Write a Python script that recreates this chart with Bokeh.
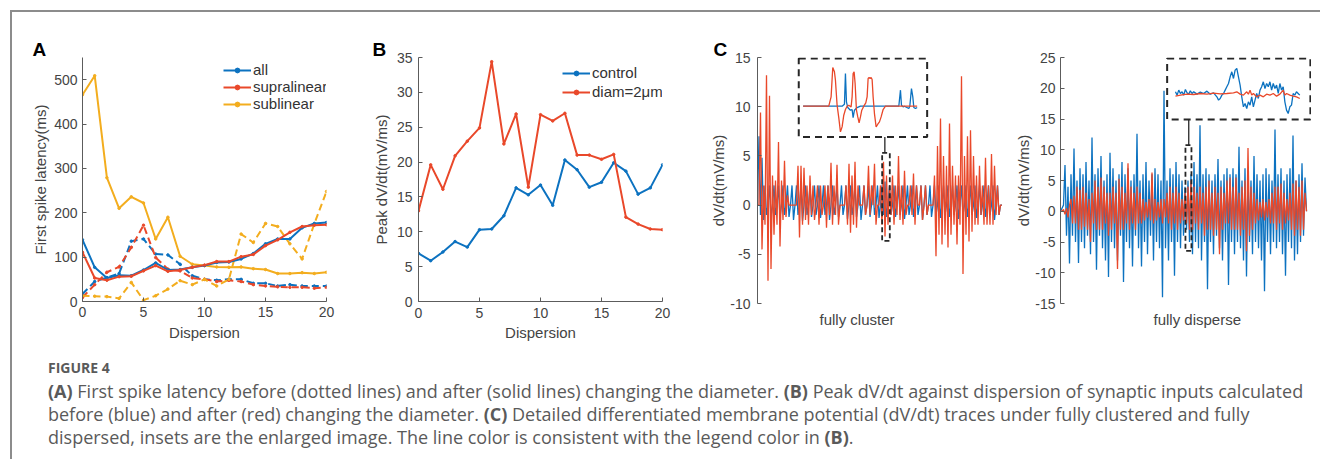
import numpy as np
from bokeh.plotting import figure
from bokeh.models import Range1d, FixedTicker, Legend, LegendItem, Div, BoxAnnotation, Title
from bokeh.layouts import row, column
from bokeh.embed import file_html
from bokeh.resources import INLINE

# ---------------- data ----------------
dispersion = list(range(21))
xticks_disp = [0, 5, 10, 15, 20]

# Panel A: first spike latency (ms); "after" = solid, "before" = dashed
lat_all_after = [139, 77, 53, 59, 58, 71, 87, 71, 72, 77, 81, 88, 89, 96, 108, 130, 141, 141, 166, 176, 178]
lat_supra_after = [111, 53, 48, 56, 57, 69, 81, 68, 71, 77, 82, 90, 90, 101, 106, 126, 139, 156, 169, 172, 173]
lat_sub_after = [466, 509, 279, 210, 236, 222, 141, 190, 102, 84, 81, 78, 77, 78, 74, 72, 63, 63, 65, 63, 66]
lat_all_before = [17, 45, 54, 63, 136, 141, 107, 105, 84, 58, 50, 48, 50, 50, 41, 41, 35, 38, 35, 35, 35]
lat_supra_before = [9, 38, 66, 78, 122, 172, 99, 73, 69, 53, 50, 45, 48, 45, 38, 35, 33, 32, 32, 30, 32]
lat_sub_before = [13, 12, 11, 7, 43, 3, 13, 28, 47, 38, 50, 35, 50, 152, 133, 176, 169, 130, 96, 175, 248]
a_yticks = [0, 100, 200, 300, 400, 500]

# Panel B: peak dV/dt (mV/ms)
peak_control = [6.9, 5.85, 7.1, 8.6, 7.8, 10.3, 10.4, 12.3, 16.3, 15.3, 16.7, 13.8, 20.3, 18.9, 16.4, 17.1, 19.9, 18.7, 15.4, 16.3, 19.6]
peak_diam2 = [13.0, 19.6, 16.1, 20.9, 23.0, 24.9, 34.4, 22.6, 26.9, 16.4, 26.8, 25.9, 27.0, 21.0, 21.0, 20.4, 21.1, 12.1, 11.1, 10.4, 10.3]
b_yticks = [0, 5, 10, 15, 20, 25, 30, 35]

# Panel C left: fully cluster dV/dt traces
clu_control = [
    0, 7, -1, 4.8, -1.5, 2, -1, 0, 2, -1.2,
    0, 2, -1, 0, 2, -1.3, 0, 2, -1, 0,
    2, -1.2, 0, 2, -1.5, 0, 2, -1, 0, 2,
    -1.6, 0, 2, -1, 0, 2, -1.2, 0, 2, -1,
    0, 2, -1.3, 0, 2, -1, 0, 2, -1.5, 0,
    2, -1, 0, 2, -1.2, 0, 2, -1, 0, 2,
    -1.4, 0, 2, -1, 0, 2, -1.2, 0, 2, -1.5,
    0, 2, -1, 0, 2, -1.2, 0, 2, -1, 0,
    2, -1.3, 0, 2, -1, 2.4, -1.2, 0, 2, -1,
    0, 2, -1.2, 0, 2, -1, 0, 2, -1.4, 0,
    2, -1, 0, 2, -1.2, 0, 2, -1, 0, 2,
    -1.5, 0, 2, -1, 0, 2, -1.2, 0, 2, -1,
    0, 2, -1.3, 0, 2, -1, 0, 2, -1.2, 0,
    2, -1, 0, 2, -1.4, 0, 2, -1, 0, 2,
    -1.2, 0, 2, -1, 0, 2, -1.3, 0, 2, -1,
    0, 2, -1.2, 0, 2, -1, 0, 2, -1.5, 0,
    2, -1, 0, 0]
clu_diam2 = [
    0, 0, 9.4, -4.5, 2, -2, 13.2, -7.7, 11.1, -6.5,
    3, -3, 2.5, -2, 6.4, -4.2, 2.5, -1.5, 4.5, -1.2,
    1, 0, 0, 0, 0, 0, 0, 4, -3.3, 4,
    -2, 3.8, -1.5, 2, -2, 3, -1, 2, -1.5, 0,
    2, -2, 2, -1, 0, 2, -2.3, 2, -1, 4.3,
    -2, 2, -1, 4.1, -2, 0, 0, 0, 0, 2,
    -2, 4.2, -2.8, 3, -2, 4.4, -2.3, 2, 0, 0,
    0, 2, -1, 0, 4, -1, 2, 0, 4.2, -2,
    0, 0, 2, -2, 4.4, -3.2, 3, -2, 2, -1,
    3, -2, 2, -1, 5, -1.5, 2, -2, 3.5, -1,
    0, 0, 2, -1, 3.2, -2, 2, 0, 0, 2,
    -1.5, 0, 2, -1, 0, 0, 0, 0, 3, -5.2,
    6, -3, 8.8, -4, 5, -3, 4, -4.3, 8.3, -3,
    4, -2, 3, -4, 3, -2, 13.1, -7, 5, -3,
    7, -3.7, 7.6, -2.7, 5, -2, 3, -2, 4, -1,
    2, -2, 4.8, -2, 2, -2, 5.2, -2, 4, -1,
    2, -1, 0, 0]
# inset (enlarged) of the fully cluster traces, in inset units
clu_in_diam2_t = [13, 90, 97, 102, 107, 110, 115, 120, 125, 130, 135, 140, 145, 150, 157, 160, 163, 166, 169, 173,
                  177, 181, 185, 189, 195, 201, 205, 208, 211, 214, 217, 220, 223, 227, 232, 237, 242, 247, 253, 260, 355]
clu_in_diam2_v = [0, 0, 28, 116, 103, 78, 3, -34, -77, -62, -27, -10, 0, 3, -2, 28, 98, 103, 68, -12,
                  -32, -50, -32, -12, 0, 10, 28, 83, 86, 83, 86, 80, 28, -22, -62, -54, -47, -32, -10, 0, 0]
clu_in_control_t = [13, 130, 137, 140, 143, 147, 155, 160, 163, 167, 175, 185, 300, 305, 308, 313, 317, 330, 333, 338, 342, 345, 350, 355]
clu_in_control_v = [0, 0, 6, 98, 13, -4, -12, -10, -34, -12, -4, 0, 0, 48, 3, -2, 0, -7, 0, 53, 28, -4, -7, -4]
c1_yticks = [-10, -5, 0, 5, 10, 15]

# Panel C right: fully disperse dV/dt traces
dis_control = [
    0, 0.5, 1, 7.5, -4, 4, -8.5, 6, -4, 10.2,
    -5, 5, -8.4, 7, -5, 6, -6, 8, -4, 5,
    -7, 12, -5, 6, -9.5, 7, -4, 9, -6, 5,
    -8, 6, -10.7, 9.5, -5, 7, -6, 5, -8, 6,
    -4, 8, -11.5, 6, -5, 7, -6, 5, -9, 6,
    -4, 12.6, -6, 5, -9, 6, -5, 8, -7, 5,
    -4, 6, -8, 7, -5, 6, -6, 5, -14, 19.6,
    -6, 5, -8, 7, -5, 6, -10.5, 8, -5, 6,
    -6, 5, -4, 4, -3, 5, -5, 6, -7, 8,
    -5, 6, -6, 14, -8, 6, -5, 7, -12.7, 6,
    -5, 5, -7, 6, -4, 8.5, -6, 5, -8, 6,
    -5, 7, -12, 6, -5, 7, -7, 6, -5, 10.5,
    -6, 5, -8, 7, -10.6, 6, -5, 5, -7, 9,
    -5, 6, -6, 5, -8, 6, -13, 7, -5, 6,
    -7, 5, -5, 13.3, -6, 6, -5, 7, -7, 5,
    -10.5, 6, -5, 7, -6, 12.3, -8, 5, -7, 6,
    -5, 7.8, -4, 5.5, 0]
dis_diam2 = [
    0, 0, 0.3, -0.5, 0.5, -1, 1, 2, -2, 2.5,
    -2, 4, -3, 3.5, -3, 4, -2.5, 3, -3, 2,
    -5, 3, -2, 5, -3, 4, -3, 5.5, -3, 4,
    -2, 3, -4, 3, -3, 4, -2, 3, -9.4, 5.3,
    -3, 4, -3, 3, -2, 7.8, -3, 4, -2, 3,
    -3, 4, -2, 3, -2, 2, -1.5, 1.5, -1, 2,
    -1.5, 6.3, -2, 2, -1.5, 1.5, -1, 2, -2, 2,
    -1, 3, -2, 4, -3, 3, -2, 4, -3, 3,
    -2, 2, -1.5, 3, -2, 4, -3, 5, -3, 4,
    -2, 3, -3, 4, -2, 3, -4, 4, -3, 5,
    -3, 3, -4, 4, -3, 3, -7, 4, -3, 3,
    -2, 5, -2, 5.5, -3, 4, -3, 5.5, -3, 3,
    -4, 4, -3, 5, -6.5, 10.3, -4, 4, -3, 3,
    -2, 2, -1.5, 1.5, -1, 2, -1.5, 1.5, -1, 2,
    -2, 3, -2, 4, -3, 4, -2, 4.5, -3, 3,
    -2, 2, -1.5, 3, -3, 4.5, -4, 5, -3, 4,
    -4, 5, -3, 3, 0]
dis_in_control_t = [25, 30, 35, 40, 45, 50, 55, 60, 65, 70, 75, 80, 90, 100, 110, 120, 130, 140,
                    150, 155, 160, 165, 170, 175, 180, 185, 190, 195, 200, 205, 210, 215, 220, 225, 230, 235,
                    240, 245, 250, 255, 260, 265, 270, 275, 280, 285, 290, 295, 300, 305, 310, 315, 320, 325,
                    330, 335, 340, 345, 350, 355, 360, 365, 370, 375, 380, 385, 390, 395, 400]
dis_in_control_v = [5, -5, 10, 0, 5, -5, 12, 2, -2, 8, 0, 5, -2, 4, 0, 7, -2, 2,
                    -10, -20, -15, -5, 0, 10, 20, 30, 50, 65, 45, 70, 75, 50, 25, -10, -40, -30,
                    -45, -25, -35, -10, -40, -20, 0, -15, 10, 20, 35, 15, 30, 20, 35, 10, 30, 15,
                    25, 0, 30, 10, 20, -25, -50, -60, -40, -35, 0, -5, 5, 0, -5]
dis_in_diam2_t = [25, 40, 60, 80, 100, 120, 140, 160, 180, 200, 210, 220, 230, 240, 245, 250, 255, 260,
                  270, 280, 290, 300, 310, 320, 330, 340, 350, 355, 360, 370, 380, 390, 400]
dis_in_diam2_v = [-8, -5, -2, -3, 0, -2, 1, -1, 0, 2, 5, -2, -5, 5, -2, 10, -5, 0,
                  -10, -5, -10, -2, -5, 0, -8, -2, 10, -5, 0, -5, -8, -10, -15]
c2_yticks = [-15, -10, -5, 0, 5, 10, 15, 20, 25]

# ---------------- style ----------------
BLUE = "#0c72c0"
RED = "#e9482a"
YELLOW = "#f3ad1e"
FONT = "Liberation Sans"
TICK_COLOR = "#444444"
AXIS_COLOR = "#5c5c5c"
BOX_COLOR = "#262626"


def make_fig(xr, yr, fw, fh, left, right, top, bottom):
    p = figure(x_range=Range1d(*xr), y_range=Range1d(*yr), frame_width=fw, frame_height=fh,
               min_border_left=left, min_border_right=right, min_border_top=top, min_border_bottom=bottom,
               output_backend="svg", toolbar_location=None)
    p.grid.visible = False
    p.outline_line_color = None
    p.background_fill_color = "white"
    p.border_fill_color = "white"
    for ax in (p.xaxis[0], p.yaxis[0]):
        ax.axis_line_color = AXIS_COLOR
        ax.axis_line_width = 1
        ax.major_tick_line_color = AXIS_COLOR
        ax.major_tick_in = 4
        ax.major_tick_out = 0
        ax.minor_tick_line_color = None
        ax.major_label_text_font = FONT
        ax.major_label_text_font_size = "14px"
        ax.major_label_text_color = TICK_COLOR
        ax.axis_label_text_font = FONT
        ax.axis_label_text_font_size = "15px"
        ax.axis_label_text_font_style = "normal"
        ax.axis_label_text_color = TICK_COLOR
    return p


def hyphen_labels(ticks):
    # MATLAB-style tick labels with a plain hyphen for negatives
    return {t: str(t) for t in ticks if t < 0}


def inset_range(main, box0, box1, loc0, loc1):
    s = (loc1 - loc0) / (box1 - box0)
    return Range1d(loc0 + (main[0] - box0) * s, loc0 + (main[1] - box0) * s)


def panel_letter(p, txt, offset):
    p.title.text = txt
    p.title.align = "left"
    p.title.offset = offset
    p.title.text_font = FONT
    p.title.text_font_size = "19px"
    p.title.text_font_style = "bold"
    p.title.text_color = "black"
    p.title.text_line_height = 0.75
    p.title.standoff = -5


def legend_for(p, items, loc, spacing):
    lg = Legend(items=items, location=loc)
    lg.background_fill_alpha = 0
    lg.border_line_alpha = 0
    lg.padding = 0
    lg.margin = 0
    lg.spacing = spacing
    lg.glyph_width = 28
    lg.glyph_height = 12
    lg.label_height = 12
    lg.label_standoff = 2
    lg.label_text_font = FONT
    lg.label_text_font_size = "15px"
    lg.label_text_line_height = 0.8
    lg.label_text_color = "#333333"
    lg.label_text_baseline = "middle"
    p.add_layout(lg)


def bottom_label(p, text, offset):
    p.xaxis.visible = False
    p.add_layout(Title(text=text, align="left", offset=offset, standoff=10, text_font=FONT,
                       text_font_size="15px", text_font_style="normal", text_color=TICK_COLOR), "below")


ORIGIN_X = 12
ORIGIN_Y = 12

# ---------------- Panel A ----------------
A_X = (0, 20)
A_Y = (0, 550)
pa = make_fig(A_X, A_Y, 244, 244, 82 - ORIGIN_X, 14, 57 - ORIGIN_Y, 44)
pa.xaxis.ticker = FixedTicker(ticks=xticks_disp)
pa.yaxis.ticker = FixedTicker(ticks=a_yticks)
pa.xaxis.axis_label = "Dispersion"
pa.yaxis.axis_label = "First spike latency(ms)"
pa.xaxis.major_label_standoff = 5
pa.xaxis.axis_label_standoff = 4
pa.yaxis.major_label_standoff = 5
pa.yaxis.axis_label_standoff = 2
rend = {}
for name, ys_before, col in (("all", lat_all_before, BLUE),
                             ("supralinear", lat_supra_before, RED),
                             ("sublinear", lat_sub_before, YELLOW)):
    pa.line(dispersion, ys_before, line_color=col, line_width=2, line_dash="7 4")
    pa.scatter(dispersion, ys_before, size=2.5, color=col)
for name, ys_after, col in (("sublinear", lat_sub_after, YELLOW),
                            ("all", lat_all_after, BLUE),
                            ("supralinear", lat_supra_after, RED)):
    l = pa.line(dispersion, ys_after, line_color=col, line_width=2)
    s = pa.scatter(dispersion, ys_after, size=2.5, color=col)
    rend[name] = [l, s]
legend_for(pa, [LegendItem(label=n, renderers=rend[n]) for n in ("all", "supralinear", "sublinear")],
           (141, 189), 0)
panel_letter(pa, "A", 32 - 82)

# ---------------- Panel B ----------------
B_X = (0, 20)
B_Y = (0, 35)
pb = make_fig(B_X, B_Y, 244, 244, 78, 18, 57 - ORIGIN_Y, 44)
pb.xaxis.ticker = FixedTicker(ticks=xticks_disp)
pb.yaxis.ticker = FixedTicker(ticks=b_yticks)
pb.xaxis.axis_label = "Dispersion"
pb.yaxis.axis_label = "Peak dV/dt(mV/ms)"
pb.xaxis.major_label_standoff = 6
pb.xaxis.axis_label_standoff = 3
pb.yaxis.major_label_standoff = 6
pb.yaxis.axis_label_standoff = 4
lc = pb.line(dispersion, peak_control, line_color=BLUE, line_width=2)
sc = pb.scatter(dispersion, peak_control, size=2.5, color=BLUE)
ld = pb.line(dispersion, peak_diam2, line_color=RED, line_width=2)
sd = pb.scatter(dispersion, peak_diam2, size=2.5, color=RED)
legend_for(pb, [LegendItem(label="control", renderers=[lc, sc]),
                LegendItem(label="diam=2\u03bcm", renderers=[ld, sd])], (144, 201), 2)
panel_letter(pb, "B", 372 - 418)

# ---------------- Panel C left ----------------
C1_X = (0, 245 / 1.5)
C1_Y = (-10, 15)
pc1 = make_fig(C1_X, C1_Y, 245, 246, 77, 8, 57 - ORIGIN_Y, 42)
bottom_label(pc1, "fully cluster", 62)
pc1.yaxis.ticker = FixedTicker(ticks=c1_yticks)
pc1.yaxis.major_label_overrides = hyphen_labels(c1_yticks)
pc1.yaxis.axis_label = "dV/dt(mV/ms)"
pc1.yaxis.major_label_standoff = 7
pc1.yaxis.axis_label_standoff = 0
t1 = list(range(len(clu_control)))
pc1.line(t1, clu_control, line_color=BLUE, line_width=1.3)
pc1.line(t1, clu_diam2, line_color=RED, line_width=1.3)
box1 = (27.5, 113.1, 6.93, 14.9)
pc1.extra_x_ranges = {"ix": inset_range(C1_X, box1[0], box1[1], 0, 385)}
pc1.extra_y_ranges = {"iy": inset_range(C1_Y, box1[2], box1[3], -92, 143)}
pc1.line(clu_in_control_t, clu_in_control_v, line_color=BLUE, line_width=1.3, x_range_name="ix", y_range_name="iy")
pc1.line(clu_in_diam2_t, clu_in_diam2_v, line_color=RED, line_width=1.3, x_range_name="ix", y_range_name="iy")
pc1.add_layout(BoxAnnotation(left=box1[0], right=box1[1], bottom=box1[2], top=box1[3], fill_alpha=0,
                             line_color=BOX_COLOR, line_alpha=1, line_width=2, line_dash="7 5"))
pc1.add_layout(BoxAnnotation(left=83.1, right=88.2, bottom=-3.64, top=5.3, fill_alpha=0,
                             line_color=BOX_COLOR, line_alpha=1, line_width=1.8, line_dash="5 3"))
pc1.segment(x0=[84.9], y0=[box1[2]], x1=[84.9], y1=[5.3], line_color=BOX_COLOR, line_width=1.3)
panel_letter(pc1, "C", 713 - 757)

# ---------------- Panel C right ----------------
C2_X = (0, 251 / 1.5)
C2_Y = (-15, 25)
pc2 = make_fig(C2_X, C2_Y, 251, 246, 50, 0, 57 - ORIGIN_Y, 42)
bottom_label(pc2, "fully disperse", 93)
pc2.yaxis.ticker = FixedTicker(ticks=c2_yticks)
pc2.yaxis.major_label_overrides = hyphen_labels(c2_yticks)
pc2.yaxis.axis_label = "dV/dt(mV/ms)"
pc2.yaxis.major_label_standoff = 5
pc2.yaxis.axis_label_standoff = 0
t2 = list(range(len(dis_control)))
pc2.line(t2, dis_control, line_color=BLUE, line_width=1.3)
pc2.line(t2, dis_diam2, line_color=RED, line_width=1.3)
box2 = (71.1, 166.6, 14.92, 24.84)
pc2.extra_x_ranges = {"ix": inset_range(C2_X, box2[0], box2[1], 0, 432)}
pc2.extra_y_ranges = {"iy": inset_range(C2_Y, box2[2], box2[3], -78, 105)}
pc2.line(dis_in_control_t, dis_in_control_v, line_color=BLUE, line_width=1.3, x_range_name="ix", y_range_name="iy")
pc2.line(dis_in_diam2_t, dis_in_diam2_v, line_color=RED, line_width=1.3, x_range_name="ix", y_range_name="iy")
pc2.add_layout(BoxAnnotation(left=box2[0], right=box2[1], bottom=box2[2], top=box2[3], fill_alpha=0,
                             line_color=BOX_COLOR, line_alpha=1, line_width=2, line_dash="7 5"))
pc2.add_layout(BoxAnnotation(left=83.3, right=87.3, bottom=-6.45, top=10.74, fill_alpha=0,
                             line_color=BOX_COLOR, line_alpha=1, line_width=1.8, line_dash="5 3"))
pc2.segment(x0=[85.5], y0=[box2[2]], x1=[85.5], y1=[10.74], line_color=BOX_COLOR, line_width=1.3)

# ---------------- caption ----------------
caption_html = (
    '<div style="font-family:\'Open Sans\',sans-serif;color:#5a5a5a;padding-left:31px;padding-top:10px;">'
    '<div style="font-size:14px;font-weight:700;line-height:16px;">FIGURE 4</div>'
    '<div style="font-size:18px;line-height:23px;margin-top:4px;white-space:nowrap;">'
    '<b>(A)</b> First spike latency before (dotted lines) and after (solid lines) changing the diameter. '
    '<b>(B)</b> Peak dV/dt against dispersion of synaptic inputs calculated<br>'
    'before (blue) and after (red) changing the diameter. <b>(C)</b> Detailed differentiated membrane '
    'potential (dV/dt) traces under fully clustered and fully<br>'
    'dispersed, insets are the enlarged image. The line color is consistent with the legend color in '
    '<b>(B)</b>.</div></div>'
)
caption = Div(text=caption_html, width=1299, height=104)

top_row = row(pa, pb, pc1, pc2)
root = column(top_row, caption, margin=(10, 0, 0, 10),
              styles={"border-left": "2px solid #8c8c8c", "border-top": "2px solid #8c8c8c"})

open("out.html", "w").write(file_html(root, INLINE))
